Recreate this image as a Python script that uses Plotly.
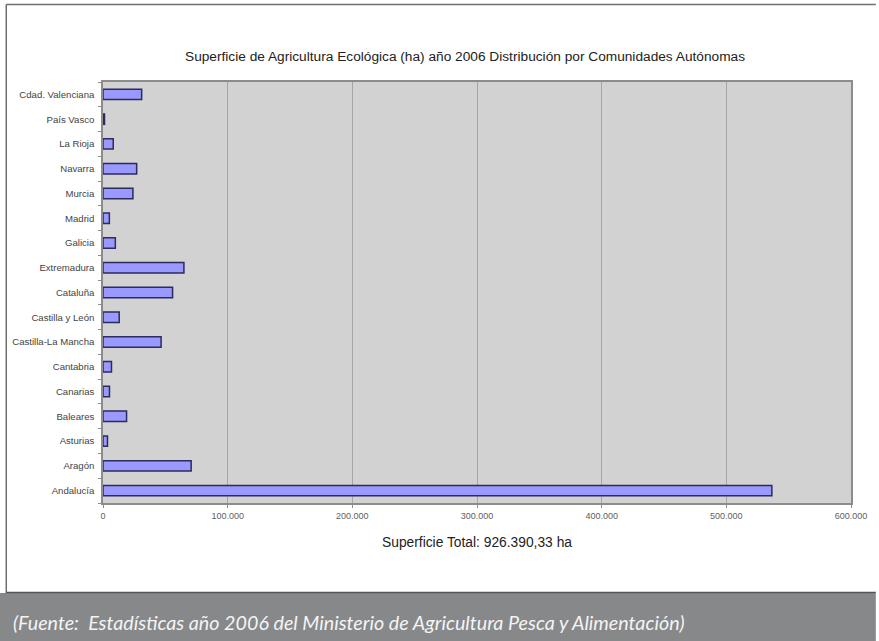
import plotly.graph_objects as go

# ---- data ----
regions = ["Andalucía", "Aragón", "Asturias", "Baleares", "Canarias", "Cantabria",
           "Castilla-La Mancha", "Castilla y León", "Cataluña", "Extremadura",
           "Galicia", "Madrid", "Murcia", "Navarra", "La Rioja", "País Vasco",
           "Cdad. Valenciana"]
hectares = [536500, 70700, 3600, 18900, 5200, 6800,
            46600, 13000, 55800, 64900,
            9900, 5100, 24000, 27000, 8200, 1200,
            31000]
x_ticks = [0, 100000, 200000, 300000, 400000, 500000, 600000]
x_tick_labels = ["0", "100.000", "200.000", "300.000", "400.000", "500.000", "600.000"]

title_text = "Superficie de Agricultura Ecológica (ha) año 2006 Distribución por Comunidades Autónomas"
axis_title = "Superficie Total: 926.390,33 ha"
source_text = "(Fuente:&nbsp; Estadísticas año 2006 del Ministerio de Agricultura Pesca y Alimentación)"

# ---- layout geometry (pixels) ----
W, H = 879, 641
L, R, T, B = 102, 856, 82, 503
pw, ph = R - L, B - T


def px_x(p):
    return (p - L) / pw


def px_y(p):
    return (B - p) / ph


fig = go.Figure()
fig.add_trace(go.Bar(
    y=regions, x=hectares, orientation="h",
    marker=dict(color="#9999ff", line=dict(color="#2b2b5e", width=1.5)),
    width=0.42,
    hoverinfo="x+y",
))

font_main = "Liberation Sans, Arial, sans-serif"

fig.update_layout(
    width=W, height=H,
    margin=dict(l=L, r=W - R, t=T, b=H - B, pad=0),
    paper_bgcolor="white",
    plot_bgcolor="#d2d2d2",
    showlegend=False,
    font=dict(family=font_main, color="#333333"),
    xaxis=dict(
        range=[0, 600000], tickvals=x_ticks, ticktext=x_tick_labels,
        showgrid=True, gridcolor="#a6a6a6", gridwidth=1,
        zeroline=False, showline=True, linecolor="#8c8c8c", linewidth=1.5,
        mirror=True, ticks="outside", ticklen=3, tickcolor="#8c8c8c",
        tickfont=dict(size=9, color="#606060"),
        title=dict(text=axis_title, font=dict(size=13.8, color="#222222"), standoff=18),
    ),
    yaxis=dict(
        categoryorder="array", categoryarray=regions,
        showgrid=False, showline=True, linecolor="#8c8c8c", linewidth=1.5,
        mirror=True, ticks="outside", ticklen=3, tickcolor="#8c8c8c",
        tickson="boundaries",
        tickfont=dict(size=9.6, color="#444444"),
        ticklabelstandoff=5,
    ),
    shapes=[
        # footer band
        dict(type="rect", xref="paper", yref="paper",
             x0=px_x(-2), x1=px_x(W + 2), y0=px_y(593), y1=px_y(H + 2),
             fillcolor="#87888a", line=dict(width=0), layer="below"),
        # outer frame
        dict(type="line", xref="paper", yref="paper",
             x0=px_x(4.5), x1=px_x(W + 2), y0=px_y(4.5), y1=px_y(4.5),
             line=dict(color="#6e6e6e", width=1.5)),
        dict(type="line", xref="paper", yref="paper",
             x0=px_x(4.5), x1=px_x(4.5), y0=px_y(4.5), y1=px_y(593),
             line=dict(color="#6e6e6e", width=1.5)),
        dict(type="line", xref="paper", yref="paper",
             x0=px_x(4.5), x1=px_x(W + 2), y0=px_y(592.5), y1=px_y(592.5),
             line=dict(color="#555555", width=1.5)),
    ],
    annotations=[
        dict(text=title_text, xref="paper", yref="paper",
             x=px_x(467), y=px_y(56), xanchor="center", yanchor="middle",
             showarrow=False, font=dict(size=13.7, color="#222222", family=font_main)),
        dict(text="<i>" + source_text + "</i>", xref="paper", yref="paper",
             x=px_x(9), y=px_y(622), xanchor="left", yanchor="middle",
             showarrow=False, font=dict(size=19.7, color="#f4f4f4", family="Lato, sans-serif")),
    ],
)

fig.write_html(
    "out.html",
    config={"displayModeBar": False},
    post_script="document.body.style.margin='0';document.documentElement.style.overflow='hidden';",
)
